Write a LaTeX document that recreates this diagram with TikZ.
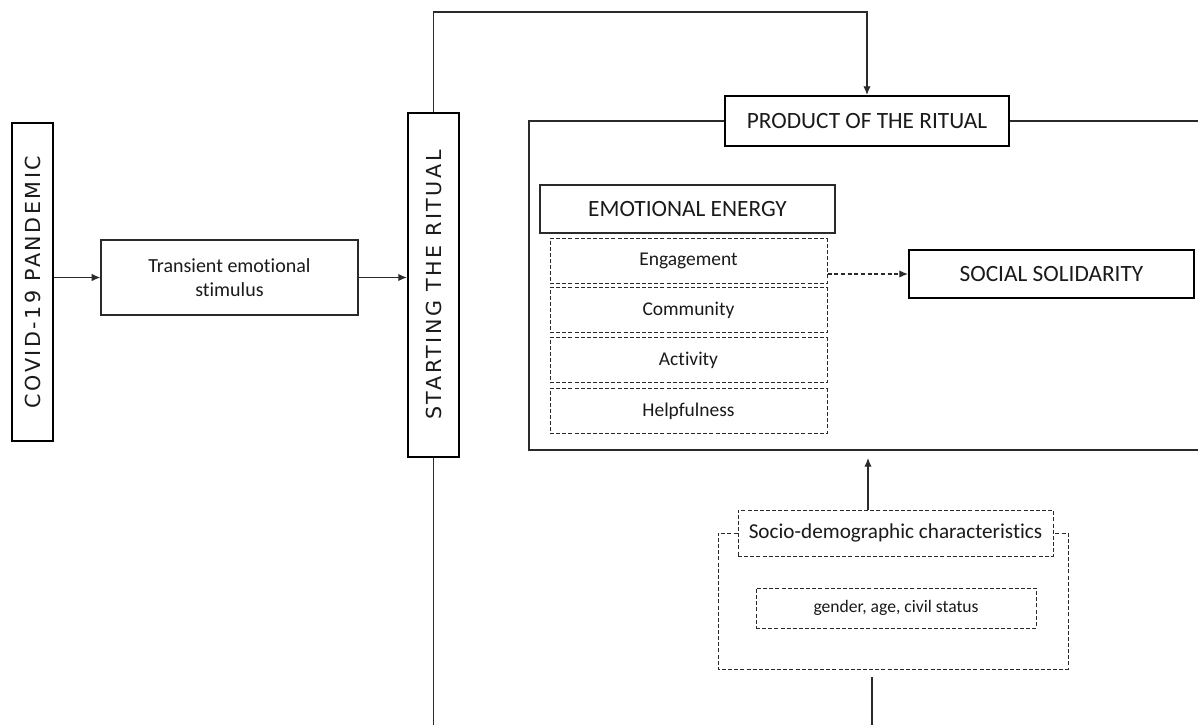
\documentclass[tikz,border=0pt]{standalone}
\usepackage{fontspec}
\setmainfont{Carlito}[Ligatures=NoCommon]
\newfontfamily\widefont[LetterSpace=12]{DejaVu Sans}
\usetikzlibrary{arrows.meta,calc}
\definecolor{linegray}{HTML}{2a2a2a}
\definecolor{inkdark}{HTML}{1a1a1a}

\begin{document}
\begin{tikzpicture}[x=0.75pt, y=-0.75pt,
  every node/.style={inner sep=0pt, align=center, text=inkdark},
  plainbox/.style={draw=linegray, line width=0.9pt},
  heavybox/.style={draw=black, line width=1.6pt},
  dashline/.style={draw=linegray, line width=0.75pt, dash pattern=on 3pt off 1.6pt},
  dashbox/.style={dashline},
  link/.style={draw=linegray, line width=0.9pt},
  arr/.style={link, -{Latex[length=6.5pt, width=5.5pt]}}]

% === Wymiary ===
\useasboundingbox (0,0) rectangle (1198,725);
\fill[white] (0,0) rectangle (1198,725);
\coordinate (bottom) at (0,725);

% === Lewa kolumna ===
\node[heavybox, minimum width=30.75pt, minimum height=238.5pt] (covid) at (32.5,282) {%
  \rotatebox{90}{\widefont\fontsize{15.5}{17}\selectfont COVID-19 PANDEMIC}%
};
\node[plainbox, minimum width=192.75pt, minimum height=56.25pt,
      font=\fontsize{15}{18.5}\selectfont] (trans) at (229.5,277.5) {%
  Transient emotional\\stimulus%
};
\node[heavybox, minimum width=38.25pt, minimum height=258pt] (start) at (433.5,285) {%
  \rotatebox{90}{\widefont\fontsize{15.5}{17}\selectfont STARTING THE RITUAL}%
};

\draw[arr] (covid.east |- trans.west) -- (trans.west);
\draw[arr] (trans.east) -- (trans.east -| start.west);

% === Produkt rytuału ===
\node[heavybox, minimum width=213pt, minimum height=37.5pt,
      font=\fontsize{17.5}{20}\selectfont] (prod) at (867,121) {PRODUCT OF THE RITUAL};
\draw[arr] (start.north) -- ++(0,-100) -| (prod.north);

% ramka
\draw[link, line width=1pt] (prod.west) -| (529,450) -- (1198,450);
\draw[link, line width=1pt] (prod.east) -- (1198,121);

% === Energia emocjonalna ===
\node[plainbox, minimum width=221.25pt, minimum height=36pt,
      font=\fontsize{17.5}{20}\selectfont] (emo) at (687.5,209) {EMOTIONAL ENERGY};
\foreach \name/\txt/\yy in {eng/Engagement/261, com/Community/310,
                            act/Activity/360, help/Helpfulness/411} {
  \node[dashbox, minimum width=207.75pt, minimum height=33.75pt,
        font=\fontsize{14.6}{17}\selectfont] (\name) at (688.5,\yy) {\txt};
}

\node[heavybox, minimum width=213.75pt, minimum height=36pt,
      font=\fontsize{17.5}{20}\selectfont] (social) at (1051.5,274) {SOCIAL SOLIDARITY};
\draw[arr, dash pattern=on 3pt off 2pt] (eng.east |- social.west) -- (social.west);

% === Cechy społeczno-demograficzne ===
\node[dashbox, minimum width=236.25pt, minimum height=34.5pt,
      font=\fontsize{15.9}{18}\selectfont] (socio) at (895.5,533) {Socio-demographic characteristics};
\node[dashbox, minimum width=210pt, minimum height=30pt,
      font=\fontsize{13.2}{16}\selectfont] (gender) at (896,608) {gender, age, civil status};
\draw[dashline] (socio.west) -| (718,669) -| (1068,533) -- (socio.east);

\coordinate (frameup) at (868,458);
\draw[arr] (frameup |- socio.north) -- (frameup);

% === Linie dolne ===
\coordinate (basefoot) at (872,677);
\draw[link] (start.south) -- (start.south |- bottom);
\draw[link] (basefoot) -- (basefoot |- bottom);

\end{tikzpicture}
\end{document}
